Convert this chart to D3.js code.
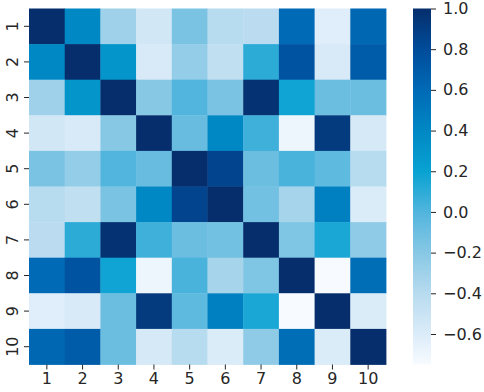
<!DOCTYPE html>
<html>
<head>
<meta charset="utf-8">
<script src="https://cdn.jsdelivr.net/npm/d3@7"></script>
<style>
  html, body { margin: 0; padding: 0; background: #fff; }
  svg { display: block; }
  text { font-family: "DejaVu Sans", sans-serif; fill: #262626; }
</style>
</head>
<body>
<svg id="chart" width="484" height="392"></svg>
<script>
// ---- data ----
const labels = ["1","2","3","4","5","6","7","8","9","10"];
const row1  = [ 1.00,  0.40, -0.30, -0.55, -0.15, -0.40, -0.42,  0.60, -0.62,  0.62];
const row2  = [ 0.40,  1.00,  0.30, -0.58, -0.25, -0.45,  0.10,  0.75, -0.58,  0.70];
const row3  = [-0.30,  0.30,  1.00, -0.20,  0.00, -0.15,  0.97,  0.18, -0.10, -0.10];
const row4  = [-0.55, -0.58, -0.20,  1.00, -0.08,  0.40,  0.05, -0.70,  0.92, -0.57];
const row5  = [-0.15, -0.25,  0.00, -0.08,  1.00,  0.85, -0.10,  0.02, -0.05, -0.40];
const row6  = [-0.40, -0.45, -0.15,  0.40,  0.85,  1.00, -0.12, -0.33,  0.45, -0.60];
const row7  = [-0.42,  0.10,  0.97,  0.05, -0.10, -0.12,  1.00, -0.17,  0.15, -0.23];
const row8  = [ 0.60,  0.75,  0.18, -0.70,  0.02, -0.33, -0.17,  1.00, -0.75,  0.58];
const row9  = [-0.62, -0.58, -0.10,  0.92, -0.05,  0.45,  0.15, -0.75,  1.00, -0.60];
const row10 = [ 0.62,  0.70, -0.10, -0.57, -0.40, -0.60, -0.23,  0.58, -0.60,  1.00];
const matrix = [row1,row2,row3,row4,row5,row6,row7,row8,row9,row10];
const cbarTicks = [1.0, 0.8, 0.6, 0.4, 0.2, 0.0, -0.2, -0.4, -0.6];
// colormap stops (fraction along colorbar 0..1 -> colour)
const cmapPos    = [0, 0.083, 0.198, 0.313, 0.427, 0.542, 0.656, 0.771, 0.885, 1];
const cmapColors = ["#f7fbff","#dcecf9","#b8dbef","#88c8e5","#52b5dd","#08a2d2","#0088c4","#006ab6","#004c9a","#062e6c"];

// ---- layout ----
const svg = d3.select("#chart");
const hm = {x0: 29, x1: 386, y0: 8.5, y1: 364.5};
const cb = {x0: 413, x1: 431};
const FS = "16px";

const all = matrix.flat();
const [vmin, vmax] = d3.extent(all);

const frac = d3.scaleLinear().domain(cmapPos).range(cmapColors).interpolate(d3.interpolateRgb);
const color = v => frac((v - vmin) / (vmax - vmin));

const x = d3.scaleBand().domain(labels).range([hm.x0, hm.x1]);
const y = d3.scaleBand().domain(labels).range([hm.y0, hm.y1]);

const cells = [];
matrix.forEach((row, i) => row.forEach((v, j) => cells.push({r: labels[i], c: labels[j], v})));

svg.append("g").selectAll("rect").data(cells).join("rect")
  .attr("x", d => x(d.c))
  .attr("y", d => y(d.r))
  .attr("width", x.bandwidth() + 0.4)
  .attr("height", y.bandwidth() + 0.4)
  .attr("fill", d => color(d.v));

// x axis
const xAxis = svg.append("g").attr("transform", `translate(0,${hm.y1})`)
  .call(d3.axisBottom(x).tickSize(5).tickPadding(3));
xAxis.select(".domain").remove();
xAxis.selectAll("line").attr("stroke", "#262626").attr("stroke-width", 1);
xAxis.selectAll("text").style("font-size", FS).style("font-family", "DejaVu Sans").attr("fill", "#262626");

// y axis
const yAxis = svg.append("g").attr("transform", `translate(${hm.x0},0)`)
  .call(d3.axisLeft(y).tickSize(5).tickPadding(3));
yAxis.select(".domain").remove();
yAxis.selectAll("line").attr("stroke", "#262626").attr("stroke-width", 1);
yAxis.selectAll("text")
  .style("font-size", FS).style("font-family", "DejaVu Sans").attr("fill", "#262626")
  .attr("x", null).attr("dy", null)
  .attr("text-anchor", "middle")
  .attr("transform", "translate(-17,0) rotate(-90)")
  .attr("dy", "0.35em");

// colorbar
const defs = svg.append("defs");
const grad = defs.append("linearGradient").attr("id", "cbgrad")
  .attr("x1", "0").attr("y1", "1").attr("x2", "0").attr("y2", "0");
grad.selectAll("stop").data(cmapPos).join("stop")
  .attr("offset", d => d)
  .attr("stop-color", (d, i) => cmapColors[i]);

const cy = d3.scaleLinear().domain([vmin, vmax]).range([hm.y1, hm.y0]);
svg.append("rect")
  .attr("x", cb.x0).attr("y", hm.y0)
  .attr("width", cb.x1 - cb.x0).attr("height", hm.y1 - hm.y0)
  .attr("fill", "url(#cbgrad)");

const cAxis = svg.append("g").attr("transform", `translate(${cb.x1},0)`)
  .call(d3.axisRight(cy).tickValues(cbarTicks).tickSize(5).tickPadding(7)
    .tickFormat(d => d3.format(".1f")(d).replace("-", "\u2212")));
cAxis.select(".domain").remove();
cAxis.selectAll("line").attr("stroke", "#262626");
cAxis.selectAll("text").style("font-size", FS).style("font-family", "DejaVu Sans").attr("fill", "#262626");
</script>
</body>
</html>
